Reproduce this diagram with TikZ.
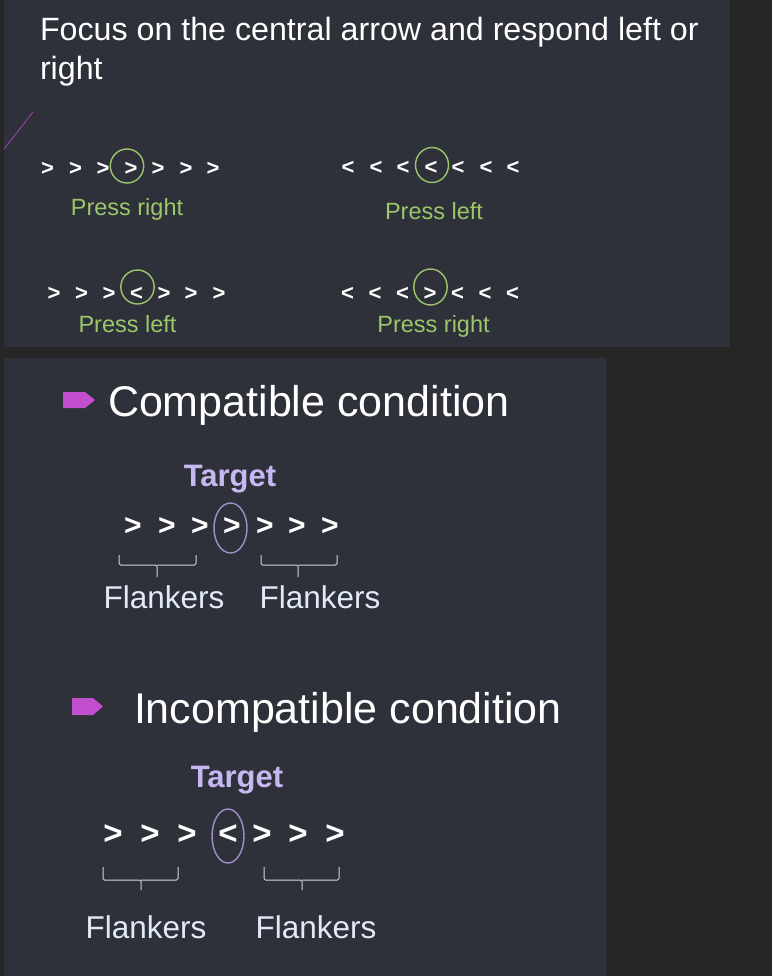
\documentclass[tikz,border=0pt]{standalone}
\usepackage{fontspec}
\setmainfont{Liberation Sans}
\definecolor{bgdark}{HTML}{262626}
\definecolor{panel}{HTML}{2E313A}
\definecolor{pressgreen}{HTML}{9CC66A}
\definecolor{targetlav}{HTML}{C8B8F2}
\definecolor{ellcol}{HTML}{A090C8}
\definecolor{bracecol}{HTML}{D0D4DA}
\definecolor{flankcol}{HTML}{E2EAF8}
\definecolor{bulletmag}{HTML}{C24FD0}
\definecolor{slashcol}{HTML}{9B3FB0}
\tikzset{
  txt/.style={inner sep=0pt, outer sep=0pt},
  chevs/.style={txt, text=white, font=\bfseries\fontsize{22}{22}\selectfont, anchor=base},
  chevm/.style={txt, text=white, font=\bfseries\fontsize{30}{30}\selectfont, anchor=base},
  chevl/.style={txt, text=white, font=\bfseries\fontsize{33}{33}\selectfont, anchor=base},
  press/.style={txt, text=pressgreen, font=\fontsize{23.5}{23.5}\selectfont, anchor=base},
  ring/.style={draw=pressgreen, line width=1.4pt},
  heading/.style={txt, text=white, font=\fontsize{43}{43}\selectfont, anchor=base west},
  target/.style={txt, text=targetlav, font=\bfseries\fontsize{31}{31}\selectfont, anchor=base},
  tring/.style={draw=ellcol, line width=1.4pt},
  flank/.style={txt, text=flankcol, font=\fontsize{31.5}{31.5}\selectfont, anchor=base},
  bracket/.style={draw=bracecol, line width=1pt, rounded corners=1.5pt},
  bullet/.style={fill=bulletmag, draw=none},
  title/.style={txt, text=white, font=\fontsize{32.2}{32.2}\selectfont, anchor=base west}
}
\begin{document}
\begin{tikzpicture}[x=1pt,y=-1pt]
\useasboundingbox (0,0) rectangle (772,976);
\fill[bgdark] (0,0) rectangle (772,976);
\fill[panel] (4,0) rectangle (730,347);
\fill[panel] (4,358) rectangle (606,976);
% title
\node[title] (t1) at (40,41) {Focus on the central arrow and respond left or};
\node[title] (t2) at (40,80) {right};
\draw[slashcol, line width=0.9pt] (4,149) -- (33,112);
% row 1 left
\foreach \x/\g [count=\i] in {47.5/>,75.5/>,103/>,131/>,158/>,186/>,213/>}
  \node[chevs] (a\i) at (\x,176) {\g};
\draw[ring] (127,166) ellipse [x radius=16.7, y radius=17];
\node[press] (pa) at (127,215) {Press right};
% row 1 right
\foreach \x/\g [count=\i] in {348/<,376/<,403/<,431/<,458/<,486/<,513/<}
  \node[chevs] (b\i) at (\x,175) {\g};
\draw[ring] (432,165) ellipse [x radius=16.5, y radius=17.5];
\node[press] (pb) at (434,219) {Press left};
% row 2 left
\foreach \x/\g [count=\i] in {54/>,81.5/>,109/>,136.5/<,164/>,191/>,219/>}
  \node[chevs] (c\i) at (\x,300) {\g};
\draw[ring] (137.5,287) ellipse [x radius=16.7, y radius=17];
\node[press] (pc) at (127.5,332) {Press left};
% row 2 right
\foreach \x/\g [count=\i] in {347.5/<,375/<,402.5/<,430/>,457.5/<,485/<,512.5/<}
  \node[chevs] (d\i) at (\x,300) {\g};
\draw[ring] (430.5,287) ellipse [x radius=16.7, y radius=18];
\node[press] (pd) at (433.5,332.5) {Press right};
% compatible
\fill[bullet] (63,392) -- (85,392) -- (95,400) -- (85,408) -- (63,408) -- cycle;
\node[heading] (h1) at (108,416) {Compatible condition};
\node[target] (tg1) at (230,486) {Target};
\foreach \x/\g [count=\i] in {133/>,167/>,200/>,232/>,265/>,297/>,330/>}
  \node[chevm] (e\i) at (\x,535.5) {\g};
\draw[tring] (230.5,528) ellipse [x radius=16.5, y radius=25];
\draw[bracket] (119,555) |- (157,565) -- (157,577);
\draw[bracket] (157,565) -| (196,555);
\draw[bracket] (261,555) |- (298,565) -- (298,577);
\draw[bracket] (298,565) -| (337,555);
\node[flank] (f1) at (164,608) {Flankers};
\node[flank] (f2) at (320,608) {Flankers};
% incompatible
\fill[bullet] (72,698) -- (93,698) -- (103,706.5) -- (93,715) -- (72,715) -- cycle;
\node[heading] (h2) at (134,723) {Incompatible condition};
\node[target] (tg2) at (237,787) {Target};
\foreach \x/\g [count=\i] in {113/>,150/>,187/>,228/<,262/>,298/>,335/>}
  \node[chevl] (g\i) at (\x,844.5) {\g};
\draw[tring] (228,836) ellipse [x radius=16, y radius=27];
\draw[bracket] (103,867) |- (141,880) -- (141,890);
\draw[bracket] (141,880) -| (178,867);
\draw[bracket] (264,867) |- (302,880) -- (302,890);
\draw[bracket] (302,880) -| (339,867);
\node[flank] (f3) at (146,938) {Flankers};
\node[flank] (f4) at (316,938) {Flankers};
\end{tikzpicture}
\end{document}
